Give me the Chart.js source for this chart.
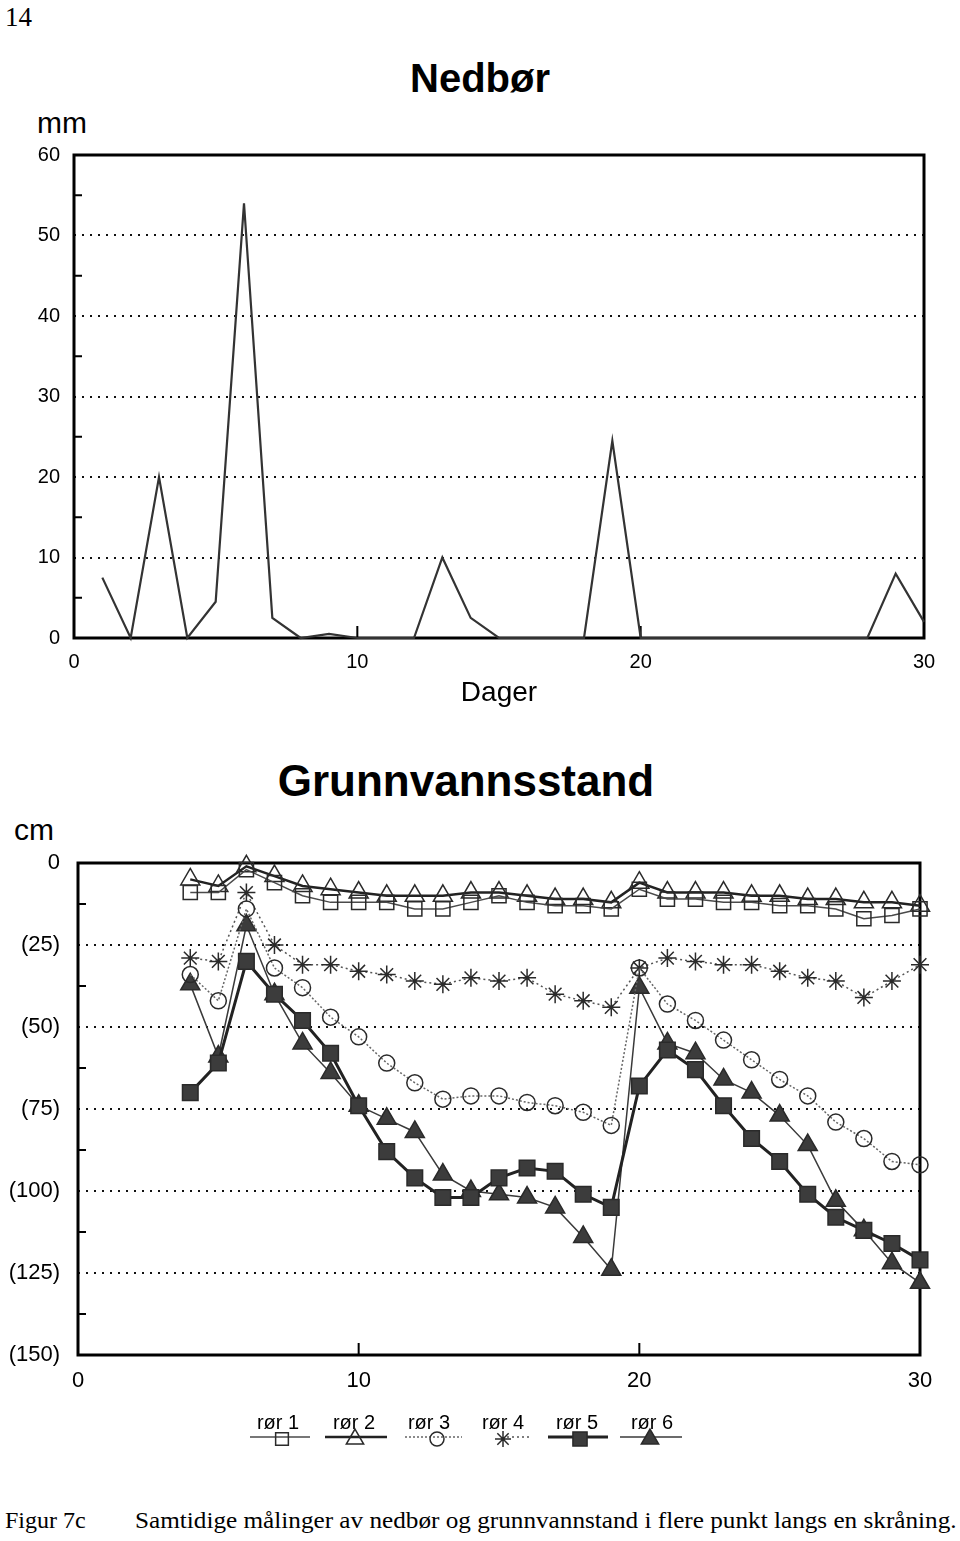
<!DOCTYPE html>
<html>
<head>
<meta charset="utf-8">
<title>Nedbør og grunnvannsstand</title>
<script src="https://cdn.jsdelivr.net/npm/chart.js@4.4.1/dist/chart.umd.min.js"></script>
<style>
  body { margin: 0; background: #fff; width: 960px; height: 1541px; position: relative; overflow: hidden; font-family: "Liberation Sans", Arial, sans-serif; color: #000; }
  .txt { position: absolute; white-space: nowrap; }
  canvas { position: absolute; left: 0; }
</style>
</head>
<body>
<div class="txt" style="left:5px;top:4px;font:27px/27px 'Liberation Serif',serif;">14</div>
<div class="txt" style="left:0;width:960px;text-align:center;top:58px;font:bold 40px/40px 'Liberation Sans',sans-serif;">Nedbør</div>
<div class="txt" style="left:37px;top:108px;font:30px/30px 'Liberation Sans',sans-serif;">mm</div>
<canvas id="nedbor" width="960" height="570" style="top:140px"></canvas>

<div class="txt" style="left:0;width:932px;text-align:center;top:759px;font:bold 44px/44px 'Liberation Sans',sans-serif;">Grunnvannsstand</div>
<div class="txt" style="left:14px;top:815px;font:30px/30px 'Liberation Sans',sans-serif;">cm</div>
<canvas id="grunnvann" width="960" height="625" style="top:845px"></canvas>

<div class="txt" style="left:5px;top:1508px;font:24px/24px 'Liberation Serif',serif;">Figur 7c</div>
<div class="txt" style="left:135px;top:1508px;font:24px/24px 'Liberation Serif',serif;transform:scaleX(1.05);transform-origin:left top;">Samtidige målinger av nedbør og grunnvannstand i flere punkt langs en skråning.</div>

<script>
// nedbør, dag 1-30 (mm)
let dager = [1, 2, 3, 4, 5, 6, 7, 8, 9, 10, 11, 12, 13, 14, 15, 16, 17, 18, 19, 20, 21, 22, 23, 24, 25, 26, 27, 28, 29, 30];
let nedbor = [7.5, 0, 20, 0, 4.5, 54, 2.5, 0, 0.5, 0, 0, 0, 10, 2.5, 0, 0, 0, 0, 24.5, 0, 0, 0, 0, 0, 0, 0, 0, 0, 8, 2];

// grunnvannsstand, dag 4-30 (cm under terreng)
let dagerGv = [4, 5, 6, 7, 8, 9, 10, 11, 12, 13, 14, 15, 16, 17, 18, 19, 20, 21, 22, 23, 24, 25, 26, 27, 28, 29, 30];
let ror1 = [9, 9, 2, 6, 10, 12, 12, 12, 14, 14, 12, 10, 12, 13, 13, 14, 8, 11, 11, 12, 12, 13, 13, 14, 17, 16, 14];
let ror2 = [5, 7, 1, 4, 7, 8, 9, 10, 10, 10, 9, 9, 10, 11, 11, 12, 6, 9, 9, 9, 10, 10, 11, 11, 12, 12, 13];
let ror3 = [34, 42, 14, 32, 38, 47, 53, 61, 67, 72, 71, 71, 73, 74, 76, 80, 32, 43, 48, 54, 60, 66, 71, 79, 84, 91, 92];
let ror4 = [29, 30, 9, 25, 31, 31, 33, 34, 36, 37, 35, 36, 35, 40, 42, 44, 32, 29, 30, 31, 31, 33, 35, 36, 41, 36, 31];
let ror5 = [70, 61, 30, 40, 48, 58, 74, 88, 96, 102, 102, 96, 93, 94, 101, 105, 68, 57, 63, 74, 84, 91, 101, 108, 112, 116, 121];
let ror6 = [37, 59, 19, 40, 55, 64, 74, 78, 82, 95, 100, 101, 102, 105, 114, 124, 38, 55, 58, 66, 70, 77, 86, 103, 112, 122, 128];

let navnRor = ["rør 1", "rør 2", "rør 3", "rør 4", "rør 5", "rør 6"];
let ticksY1 = [0, 10, 20, 30, 40, 50, 60];
let ticksY2 = [0, 25, 50, 75, 100, 125, 150];
let ticksX = [0, 10, 20, 30];

const fontTick = { family: "'Liberation Sans', Arial, sans-serif", size: 20 };

function punkter(xs, ys) {
  return xs.map((x, i) => ({ x: x, y: ys[i] }));
}

// fjern ekstra luft som skalaene legger til, så plottflaten havner der den skal
function nullPadding(s) {
  s.paddingTop = 0;
  s.paddingBottom = 0;
  s.paddingLeft = 0;
  s.paddingRight = 0;
}

// ramme, små merker på aksene
const rammePlugin = {
  id: "ramme",
  beforeDatasetsDraw(chart, args, opts) {
    const { ctx, chartArea: a, scales } = chart;
    ctx.save();
    ctx.strokeStyle = "#000";
    ctx.lineWidth = 2;
    ctx.beginPath();
    const yt = opts.yTicks;
    for (let i = 0; i < yt.length - 1; i++) {
      const y = scales.y.getPixelForValue((yt[i] + yt[i + 1]) / 2);
      ctx.moveTo(a.left, y);
      ctx.lineTo(a.left + 8, y);
    }
    [10, 20].forEach(v => {
      const x = scales.x.getPixelForValue(v);
      ctx.moveTo(x, a.bottom);
      ctx.lineTo(x, a.bottom - 12);
    });
    ctx.stroke();
    ctx.lineWidth = 3;
    ctx.strokeRect(a.left, a.top, a.right - a.left, a.bottom - a.top);
    ctx.restore();
  }
};

// forklaring under x-aksen
const forklaringPlugin = {
  id: "forklaring",
  afterDraw(chart, args, opts) {
    if (!opts.vis) return;
    const ctx = chart.ctx;
    const tekstX = [278, 354, 429, 503, 577, 652];
    const merkeX = [282, 355, 437, 503, 580, 650];
    const linje = [[250, 310], [325, 387], [405, 462], [507, 530], [548, 608], [620, 682]];
    chart.data.datasets.forEach((ds, i) => {
      ctx.save();
      ctx.fillStyle = "#000";
      ctx.font = "20px 'Liberation Sans', Arial, sans-serif";
      ctx.textAlign = "center";
      ctx.fillText(ds.label, tekstX[i], 584);
      ctx.strokeStyle = ds.borderColor;
      ctx.lineWidth = ds.borderWidth;
      ctx.setLineDash(ds.borderDash || []);
      ctx.beginPath();
      ctx.moveTo(linje[i][0], 592);
      ctx.lineTo(linje[i][1], 592);
      ctx.stroke();
      ctx.setLineDash([]);
      ctx.fillStyle = ds.pointBackgroundColor;
      ctx.strokeStyle = ds.pointBorderColor;
      ctx.lineWidth = ds.pointBorderWidth;
      Chart.helpers.drawPoint(ctx, {
        pointStyle: ds.pointStyle,
        radius: ds.pointRadius - 1,
        rotation: 0,
        borderWidth: ds.pointBorderWidth
      }, merkeX[i], 594);
      ctx.restore();
    });
  }
};

function lagNedbor() {
  const ctx = document.getElementById("nedbor").getContext("2d");
  new Chart(ctx, {
    type: "line",
    data: {
      datasets: [
        {
          label: "Nedbør",
          data: punkter(dager, nedbor),
          borderColor: "#333",
          borderWidth: 2.2,
          pointRadius: 0,
          tension: 0,
          clip: false,
        },
      ],
    },
    options: {
      responsive: false,
      animation: false,
      devicePixelRatio: 1,
      layout: { padding: { left: 0, right: 36, top: 15, bottom: 0 } },
      plugins: {
        legend: { display: false },
        tooltip: { enabled: false },
        ramme: { yTicks: ticksY1 },
        forklaring: { vis: false },
      },
      scales: {
        x: {
          type: "linear",
          min: 0,
          max: 30,
          afterBuildTicks: s => { s.ticks = ticksX.map(v => ({ value: v })); },
          afterFit: s => { s.height = 72; nullPadding(s); },
          grid: { display: false, drawTicks: false },
          border: { display: false },
          ticks: { color: "#000", font: fontTick, padding: 12, maxRotation: 0 },
          title: {
            display: true,
            text: "Dager",
            color: "#000",
            font: { family: "'Liberation Sans', Arial, sans-serif", size: 28 },
            padding: 0,
          },
        },
        y: {
          min: 0,
          max: 60,
          afterBuildTicks: s => { s.ticks = ticksY1.map(v => ({ value: v })); },
          afterFit: s => { s.width = 74; nullPadding(s); },
          grid: {
            drawTicks: false,
            lineWidth: 2,
            color: c => (c.tick.value === 0 || c.tick.value === 60 ? "rgba(0,0,0,0)" : "#111"),
          },
          border: { display: false, dash: [2, 6] },
          ticks: { color: "#000", font: fontTick, padding: 14 },
        },
      },
    },
    plugins: [rammePlugin, forklaringPlugin],
  });
}

function lagGrunnvann() {
  const ctx = document.getElementById("grunnvann").getContext("2d");
  const serier = [ror1, ror2, ror3, ror4, ror5, ror6];
  const stil = [
    { pointStyle: "rect", radius: 10, fill: "rgba(255,255,255,0)", line: "#4a4a4a", width: 1.5, dash: [] },
    { pointStyle: "triangle", radius: 11, fill: "rgba(255,255,255,0)", line: "#222", width: 2.5, dash: [] },
    { pointStyle: "circle", radius: 8, fill: "rgba(255,255,255,0)", line: "#666", width: 1.5, dash: [2, 2] },
    { pointStyle: "star", radius: 9, fill: "rgba(255,255,255,0)", line: "#555", width: 1.5, dash: [2, 3] },
    { pointStyle: "rect", radius: 11, fill: "#3c3c3c", line: "#222", width: 3, dash: [] },
    { pointStyle: "triangle", radius: 11, fill: "#3c3c3c", line: "#3a3a3a", width: 1.5, dash: [] },
  ];
  const datasets = serier.map((s, i) => ({
    label: navnRor[i],
    data: punkter(dagerGv, s),
    borderColor: stil[i].line,
    borderWidth: stil[i].width,
    borderDash: stil[i].dash,
    pointStyle: stil[i].pointStyle,
    pointRadius: stil[i].radius,
    pointBackgroundColor: stil[i].fill,
    pointBorderColor: "#2a2a2a",
    pointBorderWidth: 1.5,
    tension: 0,
    clip: false,
  }));

  new Chart(ctx, {
    type: "line",
    data: { datasets: datasets },
    options: {
      responsive: false,
      animation: false,
      devicePixelRatio: 1,
      layout: { padding: { left: 0, right: 40, top: 18, bottom: 0 } },
      plugins: {
        legend: { display: false },
        tooltip: { enabled: false },
        ramme: { yTicks: ticksY2 },
        forklaring: { vis: true },
      },
      scales: {
        x: {
          type: "linear",
          min: 0,
          max: 30,
          afterBuildTicks: s => { s.ticks = ticksX.map(v => ({ value: v })); },
          afterFit: s => { s.height = 115; nullPadding(s); },
          grid: { display: false, drawTicks: false },
          border: { display: false },
          ticks: { color: "#000", font: { family: "'Liberation Sans', Arial, sans-serif", size: 22 }, padding: 13, maxRotation: 0 },
        },
        y: {
          min: 0,
          max: 150,
          reverse: true,
          afterBuildTicks: s => { s.ticks = ticksY2.map(v => ({ value: v })); },
          afterFit: s => { s.width = 78; nullPadding(s); },
          grid: {
            drawTicks: false,
            lineWidth: 2,
            color: c => (c.tick.value === 0 || c.tick.value === 150 ? "rgba(0,0,0,0)" : "#111"),
          },
          border: { display: false, dash: [2, 6] },
          ticks: {
            color: "#000",
            font: { family: "'Liberation Sans', Arial, sans-serif", size: 22 },
            padding: 18,
            callback: v => (v === 0 ? "0" : "(" + v + ")"),
          },
        },
      },
    },
    plugins: [rammePlugin, forklaringPlugin],
  });
}

lagNedbor();
lagGrunnvann();
</script>
</body>
</html>
